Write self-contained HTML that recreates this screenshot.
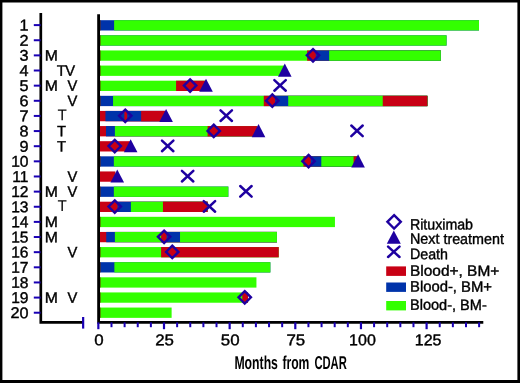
<!DOCTYPE html>
<html><head><meta charset="utf-8"><title>Months from CDAR</title>
<style>html,body{margin:0;padding:0;background:#fff}body{width:520px;height:383px;overflow:hidden}svg{display:block;will-change:transform}text{font-family:"Liberation Sans",Arial,Helvetica,sans-serif;fill:#000}</style></head><body>
<svg width="520" height="383" viewBox="0 0 520 383">
<rect x="0" y="0" width="520" height="383" fill="#fff"/>
<rect x="98.35" y="20.20" width="380.64" height="10.3" fill="#0033aa"/>
<rect x="114.11" y="20.20" width="364.88" height="10.3" fill="#33ff00"/>
<rect x="98.35" y="35.32" width="348.21" height="10.3" fill="#0033aa"/>
<rect x="99.40" y="35.32" width="347.16" height="10.3" fill="#33ff00"/>
<rect x="98.35" y="50.45" width="342.43" height="10.3" fill="#33ff00"/>
<rect x="307.12" y="50.45" width="133.66" height="10.3" fill="#c80014"/>
<rect x="315.78" y="50.45" width="125.00" height="10.3" fill="#0033aa"/>
<rect x="329.18" y="50.45" width="111.60" height="10.3" fill="#33ff00"/>
<rect x="98.35" y="65.57" width="185.92" height="10.3" fill="#33ff00"/>
<rect x="98.35" y="80.70" width="107.67" height="10.3" fill="#33ff00"/>
<rect x="176.08" y="80.70" width="29.94" height="10.3" fill="#c80014"/>
<rect x="98.35" y="95.82" width="329.04" height="10.3" fill="#0033aa"/>
<rect x="113.06" y="95.82" width="314.33" height="10.3" fill="#33ff00"/>
<rect x="263.79" y="95.82" width="163.60" height="10.3" fill="#c80014"/>
<rect x="275.08" y="95.82" width="152.31" height="10.3" fill="#0033aa"/>
<rect x="288.21" y="95.82" width="139.18" height="10.3" fill="#33ff00"/>
<rect x="382.75" y="95.82" width="44.64" height="10.3" fill="#c80014"/>
<rect x="98.35" y="110.94" width="66.96" height="10.3" fill="#c80014"/>
<rect x="105.44" y="110.94" width="59.87" height="10.3" fill="#0033aa"/>
<rect x="124.35" y="110.94" width="40.97" height="10.3" fill="#c80014"/>
<rect x="127.24" y="110.94" width="38.08" height="10.3" fill="#0033aa"/>
<rect x="141.15" y="110.94" width="24.16" height="10.3" fill="#c80014"/>
<rect x="98.35" y="126.07" width="158.87" height="10.3" fill="#c80014"/>
<rect x="105.97" y="126.07" width="151.26" height="10.3" fill="#0033aa"/>
<rect x="114.89" y="126.07" width="142.33" height="10.3" fill="#33ff00"/>
<rect x="207.59" y="126.07" width="49.63" height="10.3" fill="#c80014"/>
<rect x="98.35" y="141.19" width="31.51" height="10.3" fill="#c80014"/>
<rect x="98.35" y="156.32" width="259.97" height="10.3" fill="#0033aa"/>
<rect x="113.84" y="156.32" width="244.48" height="10.3" fill="#33ff00"/>
<rect x="303.44" y="156.32" width="54.88" height="10.3" fill="#c80014"/>
<rect x="310.79" y="156.32" width="47.53" height="10.3" fill="#0033aa"/>
<rect x="321.30" y="156.32" width="37.03" height="10.3" fill="#33ff00"/>
<rect x="353.60" y="156.32" width="4.73" height="10.3" fill="#c80014"/>
<rect x="98.35" y="171.44" width="17.07" height="10.3" fill="#c80014"/>
<rect x="98.35" y="186.56" width="129.99" height="10.3" fill="#0033aa"/>
<rect x="113.84" y="186.56" width="114.49" height="10.3" fill="#33ff00"/>
<rect x="98.35" y="201.69" width="109.24" height="10.3" fill="#c80014"/>
<rect x="117.52" y="201.69" width="90.07" height="10.3" fill="#0033aa"/>
<rect x="130.91" y="201.69" width="76.68" height="10.3" fill="#33ff00"/>
<rect x="162.95" y="201.69" width="44.64" height="10.3" fill="#c80014"/>
<rect x="98.35" y="216.81" width="236.60" height="10.3" fill="#33ff00"/>
<rect x="98.35" y="231.94" width="178.57" height="10.3" fill="#c80014"/>
<rect x="106.23" y="231.94" width="170.69" height="10.3" fill="#0033aa"/>
<rect x="114.89" y="231.94" width="162.02" height="10.3" fill="#33ff00"/>
<rect x="161.11" y="231.94" width="115.81" height="10.3" fill="#c80014"/>
<rect x="166.63" y="231.94" width="110.29" height="10.3" fill="#0033aa"/>
<rect x="180.02" y="231.94" width="96.90" height="10.3" fill="#33ff00"/>
<rect x="98.35" y="247.06" width="180.41" height="10.3" fill="#33ff00"/>
<rect x="161.11" y="247.06" width="117.64" height="10.3" fill="#c80014"/>
<rect x="98.35" y="262.18" width="172.00" height="10.3" fill="#0033aa"/>
<rect x="114.37" y="262.18" width="155.98" height="10.3" fill="#33ff00"/>
<rect x="98.35" y="277.31" width="158.09" height="10.3" fill="#33ff00"/>
<rect x="98.35" y="292.43" width="149.68" height="10.3" fill="#33ff00"/>
<rect x="242.25" y="292.43" width="5.78" height="10.3" fill="#c80014"/>
<rect x="98.35" y="307.56" width="73.27" height="10.3" fill="#33ff00"/>
<rect x="99.8" y="20.20" width="0.7" height="10.3" fill="#6a2a00"/>
<rect x="99.8" y="35.32" width="0.7" height="10.3" fill="#6a2a00"/>
<rect x="99.8" y="50.45" width="0.7" height="10.3" fill="#6a2a00"/>
<rect x="99.8" y="65.57" width="0.7" height="10.3" fill="#6a2a00"/>
<rect x="99.8" y="80.70" width="0.7" height="10.3" fill="#6a2a00"/>
<rect x="99.8" y="95.82" width="0.7" height="10.3" fill="#6a2a00"/>
<rect x="99.8" y="156.32" width="0.7" height="10.3" fill="#6a2a00"/>
<rect x="99.8" y="186.56" width="0.7" height="10.3" fill="#6a2a00"/>
<rect x="99.8" y="216.81" width="0.7" height="10.3" fill="#6a2a00"/>
<rect x="99.8" y="247.06" width="0.7" height="10.3" fill="#6a2a00"/>
<rect x="99.8" y="262.18" width="0.7" height="10.3" fill="#6a2a00"/>
<rect x="99.8" y="277.31" width="0.7" height="10.3" fill="#6a2a00"/>
<rect x="99.8" y="292.43" width="0.7" height="10.3" fill="#6a2a00"/>
<rect x="99.8" y="307.56" width="0.7" height="10.3" fill="#6a2a00"/>
<path d="M98.6 14.2V322.4H483.3" fill="none" stroke="#000" stroke-width="2.8"/>
<path d="M98.35 322.4V329.2" stroke="#1a00b4" stroke-width="2.2"/>
<path d="M111.48 322.4V327.2" stroke="#1a00b4" stroke-width="2.0"/>
<path d="M124.61 322.4V327.2" stroke="#1a00b4" stroke-width="2.0"/>
<path d="M137.74 322.4V327.2" stroke="#1a00b4" stroke-width="2.0"/>
<path d="M150.87 322.4V327.2" stroke="#1a00b4" stroke-width="2.0"/>
<path d="M164.00 322.4V329.2" stroke="#1a00b4" stroke-width="2.2"/>
<path d="M177.13 322.4V327.2" stroke="#1a00b4" stroke-width="2.0"/>
<path d="M190.26 322.4V327.2" stroke="#1a00b4" stroke-width="2.0"/>
<path d="M203.39 322.4V327.2" stroke="#1a00b4" stroke-width="2.0"/>
<path d="M216.52 322.4V327.2" stroke="#1a00b4" stroke-width="2.0"/>
<path d="M229.65 322.4V329.2" stroke="#1a00b4" stroke-width="2.2"/>
<path d="M242.78 322.4V327.2" stroke="#1a00b4" stroke-width="2.0"/>
<path d="M255.91 322.4V327.2" stroke="#1a00b4" stroke-width="2.0"/>
<path d="M269.04 322.4V327.2" stroke="#1a00b4" stroke-width="2.0"/>
<path d="M282.17 322.4V327.2" stroke="#1a00b4" stroke-width="2.0"/>
<path d="M295.30 322.4V329.2" stroke="#1a00b4" stroke-width="2.2"/>
<path d="M308.43 322.4V327.2" stroke="#1a00b4" stroke-width="2.0"/>
<path d="M321.56 322.4V327.2" stroke="#1a00b4" stroke-width="2.0"/>
<path d="M334.69 322.4V327.2" stroke="#1a00b4" stroke-width="2.0"/>
<path d="M347.82 322.4V327.2" stroke="#1a00b4" stroke-width="2.0"/>
<path d="M360.95 322.4V329.2" stroke="#1a00b4" stroke-width="2.2"/>
<path d="M374.08 322.4V327.2" stroke="#1a00b4" stroke-width="2.0"/>
<path d="M387.21 322.4V327.2" stroke="#1a00b4" stroke-width="2.0"/>
<path d="M400.34 322.4V327.2" stroke="#1a00b4" stroke-width="2.0"/>
<path d="M413.47 322.4V327.2" stroke="#1a00b4" stroke-width="2.0"/>
<path d="M426.60 322.4V329.2" stroke="#1a00b4" stroke-width="2.2"/>
<path d="M439.73 322.4V327.2" stroke="#1a00b4" stroke-width="2.0"/>
<path d="M452.86 322.4V327.2" stroke="#1a00b4" stroke-width="2.0"/>
<path d="M465.99 322.4V327.2" stroke="#1a00b4" stroke-width="2.0"/>
<path d="M479.12 322.4V327.2" stroke="#1a00b4" stroke-width="2.0"/>
<text transform="translate(98.85 345.30) rotate(0.15) scale(1.08 1)" font-size="15.6" text-anchor="middle" stroke="#000" stroke-width="0.4">0</text>
<text transform="translate(164.50 345.30) rotate(0.15) scale(1.08 1)" font-size="15.6" text-anchor="middle" stroke="#000" stroke-width="0.4">25</text>
<text transform="translate(230.15 345.30) rotate(0.15) scale(1.08 1)" font-size="15.6" text-anchor="middle" stroke="#000" stroke-width="0.4">50</text>
<text transform="translate(295.80 345.30) rotate(0.15) scale(1.08 1)" font-size="15.6" text-anchor="middle" stroke="#000" stroke-width="0.4">75</text>
<text transform="translate(362.45 345.30) rotate(0.15) scale(1.026 1)" font-size="15.6" text-anchor="middle" stroke="#000" stroke-width="0.4">100</text>
<text transform="translate(428.10 345.30) rotate(0.15) scale(1.026 1)" font-size="15.6" text-anchor="middle" stroke="#000" stroke-width="0.4">125</text>
<path d="M40.8 13V322.4H83" fill="none" stroke="#000" stroke-width="2.7"/>
<path d="M83.15 317.0V328.59999999999997" stroke="#1a00b4" stroke-width="2.2"/>
<path d="M33.8 25.10H40.6" stroke="#1a00b4" stroke-width="2"/>
<text transform="translate(28.50 30.55) rotate(0.15) scale(1.04 1)" font-size="15.6" text-anchor="end" stroke="#000" stroke-width="0.4">1</text>
<path d="M33.8 40.24H40.6" stroke="#1a00b4" stroke-width="2"/>
<text transform="translate(28.50 45.69) rotate(0.15) scale(1.04 1)" font-size="15.6" text-anchor="end" stroke="#000" stroke-width="0.4">2</text>
<path d="M33.8 55.38H40.6" stroke="#1a00b4" stroke-width="2"/>
<text transform="translate(28.50 60.83) rotate(0.15) scale(1.04 1)" font-size="15.6" text-anchor="end" stroke="#000" stroke-width="0.4">3</text>
<path d="M33.8 70.51H40.6" stroke="#1a00b4" stroke-width="2"/>
<text transform="translate(28.50 75.96) rotate(0.15) scale(1.04 1)" font-size="15.6" text-anchor="end" stroke="#000" stroke-width="0.4">4</text>
<path d="M33.8 85.65H40.6" stroke="#1a00b4" stroke-width="2"/>
<text transform="translate(28.50 91.10) rotate(0.15) scale(1.04 1)" font-size="15.6" text-anchor="end" stroke="#000" stroke-width="0.4">5</text>
<path d="M33.8 100.79H40.6" stroke="#1a00b4" stroke-width="2"/>
<text transform="translate(28.50 106.24) rotate(0.15) scale(1.04 1)" font-size="15.6" text-anchor="end" stroke="#000" stroke-width="0.4">6</text>
<path d="M33.8 115.93H40.6" stroke="#1a00b4" stroke-width="2"/>
<text transform="translate(28.50 121.38) rotate(0.15) scale(1.04 1)" font-size="15.6" text-anchor="end" stroke="#000" stroke-width="0.4">7</text>
<path d="M33.8 131.07H40.6" stroke="#1a00b4" stroke-width="2"/>
<text transform="translate(28.50 136.52) rotate(0.15) scale(1.04 1)" font-size="15.6" text-anchor="end" stroke="#000" stroke-width="0.4">8</text>
<path d="M33.8 146.20H40.6" stroke="#1a00b4" stroke-width="2"/>
<text transform="translate(28.50 151.65) rotate(0.15) scale(1.04 1)" font-size="15.6" text-anchor="end" stroke="#000" stroke-width="0.4">9</text>
<path d="M33.8 161.34H40.6" stroke="#1a00b4" stroke-width="2"/>
<text transform="translate(28.50 166.79) rotate(0.15) scale(1.0 1)" font-size="15.6" text-anchor="end" stroke="#000" stroke-width="0.4">10</text>
<path d="M33.8 176.48H40.6" stroke="#1a00b4" stroke-width="2"/>
<text transform="translate(28.50 181.93) rotate(0.15) scale(1.0 1)" font-size="15.6" text-anchor="end" stroke="#000" stroke-width="0.4">11</text>
<path d="M33.8 191.62H40.6" stroke="#1a00b4" stroke-width="2"/>
<text transform="translate(28.50 197.07) rotate(0.15) scale(1.0 1)" font-size="15.6" text-anchor="end" stroke="#000" stroke-width="0.4">12</text>
<path d="M33.8 206.76H40.6" stroke="#1a00b4" stroke-width="2"/>
<text transform="translate(28.50 212.21) rotate(0.15) scale(1.0 1)" font-size="15.6" text-anchor="end" stroke="#000" stroke-width="0.4">13</text>
<path d="M33.8 221.89H40.6" stroke="#1a00b4" stroke-width="2"/>
<text transform="translate(28.50 227.34) rotate(0.15) scale(1.0 1)" font-size="15.6" text-anchor="end" stroke="#000" stroke-width="0.4">14</text>
<path d="M33.8 237.03H40.6" stroke="#1a00b4" stroke-width="2"/>
<text transform="translate(28.50 242.48) rotate(0.15) scale(1.0 1)" font-size="15.6" text-anchor="end" stroke="#000" stroke-width="0.4">15</text>
<path d="M33.8 252.17H40.6" stroke="#1a00b4" stroke-width="2"/>
<text transform="translate(28.50 257.62) rotate(0.15) scale(1.0 1)" font-size="15.6" text-anchor="end" stroke="#000" stroke-width="0.4">16</text>
<path d="M33.8 267.31H40.6" stroke="#1a00b4" stroke-width="2"/>
<text transform="translate(28.50 272.76) rotate(0.15) scale(1.0 1)" font-size="15.6" text-anchor="end" stroke="#000" stroke-width="0.4">17</text>
<path d="M33.8 282.45H40.6" stroke="#1a00b4" stroke-width="2"/>
<text transform="translate(28.50 287.90) rotate(0.15) scale(1.0 1)" font-size="15.6" text-anchor="end" stroke="#000" stroke-width="0.4">18</text>
<path d="M33.8 297.58H40.6" stroke="#1a00b4" stroke-width="2"/>
<text transform="translate(28.50 303.03) rotate(0.15) scale(1.0 1)" font-size="15.6" text-anchor="end" stroke="#000" stroke-width="0.4">19</text>
<path d="M33.8 312.72H40.6" stroke="#1a00b4" stroke-width="2"/>
<text transform="translate(28.50 318.17) rotate(0.15) scale(1.04 1)" font-size="15.6" text-anchor="end" stroke="#000" stroke-width="0.4">20</text>
<text transform="translate(44.70 60.58) rotate(0.15) scale(1.05 1)" font-size="15.0" text-anchor="start" stroke="#000" stroke-width="0.4">M</text>
<text transform="translate(56.70 75.71) rotate(0.15) scale(0.98 1)" font-size="15.0" text-anchor="start" stroke="#000" stroke-width="0.4">T</text>
<text transform="translate(65.30 75.71) rotate(0.15) scale(0.98 1)" font-size="15.0" text-anchor="start" stroke="#000" stroke-width="0.4">V</text>
<text transform="translate(44.70 90.85) rotate(0.15) scale(1.05 1)" font-size="15.0" text-anchor="start" stroke="#000" stroke-width="0.4">M</text>
<text transform="translate(67.60 90.85) rotate(0.15) scale(0.98 1)" font-size="15.0" text-anchor="start" stroke="#000" stroke-width="0.4">V</text>
<text transform="translate(67.60 105.99) rotate(0.15) scale(0.98 1)" font-size="15.0" text-anchor="start" stroke="#000" stroke-width="0.4">V</text>
<text transform="translate(57.60 120.13) rotate(0.15) scale(0.98 1)" font-size="15.6" text-anchor="start">T</text>
<text transform="translate(57.10 136.27) rotate(0.15) scale(0.98 1)" font-size="15.0" text-anchor="start" stroke="#000" stroke-width="0.4">T</text>
<text transform="translate(57.10 151.40) rotate(0.15) scale(0.98 1)" font-size="15.0" text-anchor="start" stroke="#000" stroke-width="0.4">T</text>
<text transform="translate(67.60 181.68) rotate(0.15) scale(0.98 1)" font-size="15.0" text-anchor="start" stroke="#000" stroke-width="0.4">V</text>
<text transform="translate(44.70 196.82) rotate(0.15) scale(1.05 1)" font-size="15.0" text-anchor="start" stroke="#000" stroke-width="0.4">M</text>
<text transform="translate(67.60 196.82) rotate(0.15) scale(0.98 1)" font-size="15.0" text-anchor="start" stroke="#000" stroke-width="0.4">V</text>
<text transform="translate(57.60 210.96) rotate(0.15) scale(0.98 1)" font-size="15.6" text-anchor="start">T</text>
<text transform="translate(44.70 227.09) rotate(0.15) scale(1.05 1)" font-size="15.0" text-anchor="start" stroke="#000" stroke-width="0.4">M</text>
<text transform="translate(44.70 242.23) rotate(0.15) scale(1.05 1)" font-size="15.0" text-anchor="start" stroke="#000" stroke-width="0.4">M</text>
<text transform="translate(67.60 257.37) rotate(0.15) scale(0.98 1)" font-size="15.0" text-anchor="start" stroke="#000" stroke-width="0.4">V</text>
<text transform="translate(44.70 302.78) rotate(0.15) scale(1.05 1)" font-size="15.0" text-anchor="start" stroke="#000" stroke-width="0.4">M</text>
<text transform="translate(67.60 302.78) rotate(0.15) scale(0.98 1)" font-size="15.0" text-anchor="start" stroke="#000" stroke-width="0.4">V</text>
<path d="M313.01 49.10L319.21 55.30L313.01 61.50L306.81 55.30Z" fill="none" stroke="#1e00a0" stroke-width="2.4"/>
<path d="M190.11 79.35L196.31 85.55L190.11 91.75L183.91 85.55Z" fill="none" stroke="#1e00a0" stroke-width="2.4"/>
<path d="M272.30 94.47L278.50 100.67L272.30 106.87L266.10 100.67Z" fill="none" stroke="#1e00a0" stroke-width="2.4"/>
<path d="M125.25 109.59L131.45 115.79L125.25 121.99L119.05 115.79Z" fill="none" stroke="#1e00a0" stroke-width="2.4"/>
<path d="M213.74 124.72L219.94 130.92L213.74 137.12L207.54 130.92Z" fill="none" stroke="#1e00a0" stroke-width="2.4"/>
<path d="M114.74 139.84L120.94 146.04L114.74 152.24L108.54 146.04Z" fill="none" stroke="#1e00a0" stroke-width="2.4"/>
<path d="M308.54 154.97L314.74 161.17L308.54 167.37L302.34 161.17Z" fill="none" stroke="#1e00a0" stroke-width="2.4"/>
<path d="M114.74 200.34L120.94 206.54L114.74 212.74L108.54 206.54Z" fill="none" stroke="#1e00a0" stroke-width="2.4"/>
<path d="M164.11 230.59L170.31 236.79L164.11 242.99L157.91 236.79Z" fill="none" stroke="#1e00a0" stroke-width="2.4"/>
<path d="M172.25 245.71L178.45 251.91L172.25 258.11L166.05 251.91Z" fill="none" stroke="#1e00a0" stroke-width="2.4"/>
<path d="M244.73 291.08L250.93 297.28L244.73 303.48L238.53 297.28Z" fill="none" stroke="#1e00a0" stroke-width="2.4"/>
<path d="M284.80 63.62L291.60 76.72L278.00 76.72Z" fill="#1e00a0"/>
<path d="M206.02 78.75L212.82 91.85L199.22 91.85Z" fill="#1e00a0"/>
<path d="M166.10 108.99L172.90 122.09L159.30 122.09Z" fill="#1e00a0"/>
<path d="M258.54 124.12L265.34 137.22L251.74 137.22Z" fill="#1e00a0"/>
<path d="M130.65 139.24L137.45 152.34L123.85 152.34Z" fill="#1e00a0"/>
<path d="M358.06 154.37L364.86 167.47L351.26 167.47Z" fill="#1e00a0"/>
<path d="M117.26 169.49L124.06 182.59L110.46 182.59Z" fill="#1e00a0"/>
<path d="M274.37 80.15L285.77 90.75M274.37 90.75L285.77 80.15" fill="none" stroke="#1e00a0" stroke-width="2.5" stroke-linecap="round"/>
<path d="M220.54 110.39L231.94 120.99M220.54 120.99L231.94 110.39" fill="none" stroke="#1e00a0" stroke-width="2.5" stroke-linecap="round"/>
<path d="M351.31 125.52L362.71 136.12M351.31 136.12L362.71 125.52" fill="none" stroke="#1e00a0" stroke-width="2.5" stroke-linecap="round"/>
<path d="M161.98 140.64L173.38 151.24M161.98 151.24L173.38 140.64" fill="none" stroke="#1e00a0" stroke-width="2.5" stroke-linecap="round"/>
<path d="M181.93 170.89L193.33 181.49M181.93 181.49L193.33 170.89" fill="none" stroke="#1e00a0" stroke-width="2.5" stroke-linecap="round"/>
<path d="M240.23 186.01L251.63 196.61M240.23 196.61L251.63 186.01" fill="none" stroke="#1e00a0" stroke-width="2.5" stroke-linecap="round"/>
<path d="M203.73 201.14L215.13 211.74M203.73 211.74L215.13 201.14" fill="none" stroke="#1e00a0" stroke-width="2.5" stroke-linecap="round"/>
<text transform="translate(234.40 369.00) rotate(0.15) scale(0.655 1)" font-size="18.7" text-anchor="start" font-weight="bold">Months</text>
<text transform="translate(282.40 369.00) rotate(0.15) scale(0.65 1)" font-size="18.7" text-anchor="start" font-weight="bold">from</text>
<text transform="translate(314.40 369.00) rotate(0.15) scale(0.6 1)" font-size="18.7" text-anchor="start" font-weight="bold">CDAR</text>
<path d="M394.10 215.10L400.80 221.80L394.10 228.50L387.40 221.80Z" fill="#fff" stroke="#1e00a0" stroke-width="2.4"/>
<path d="M393.80 230.40L400.80 243.80L386.80 243.80Z" fill="#1e00a0"/>
<path d="M388.10 246.60L399.50 257.00M388.10 257.00L399.50 246.60" fill="none" stroke="#1e00a0" stroke-width="2.5" stroke-linecap="round"/>
<rect x="386.2" y="266.4" width="19.8" height="9.5" fill="#c80014"/>
<rect x="386.2" y="282.5" width="19.8" height="9.4" fill="#0033aa"/>
<rect x="386.2" y="301" width="19.8" height="9.4" fill="#33ff00"/>
<text transform="translate(410.00 229.40) rotate(0.15) scale(0.945 1)" font-size="15" text-anchor="start" stroke="#000" stroke-width="0.4">Rituximab</text>
<text transform="translate(410.00 243.80) rotate(0.15) scale(0.955 1)" font-size="15" text-anchor="start" stroke="#000" stroke-width="0.4">Next treatment</text>
<text transform="translate(410.00 259.10) rotate(0.15) scale(0.95 1)" font-size="15" text-anchor="start" stroke="#000" stroke-width="0.4">Death</text>
<text transform="translate(410.00 275.70) rotate(0.15) scale(1.03 1)" font-size="15" text-anchor="start" stroke="#000" stroke-width="0.4">Blood+, BM+</text>
<text transform="translate(410.00 291.50) rotate(0.15) scale(0.99 1)" font-size="15" text-anchor="start" stroke="#000" stroke-width="0.4">Blood-, BM+</text>
<text transform="translate(410.00 309.80) rotate(0.15) scale(0.97 1)" font-size="15" text-anchor="start" stroke="#000" stroke-width="0.4">Blood-, BM-</text>
<path d="M0 0H520V383H0Z M2.4 2.6V380.1H517.4V2.6Z" fill="#000" fill-rule="evenodd"/>
</svg></body></html>
